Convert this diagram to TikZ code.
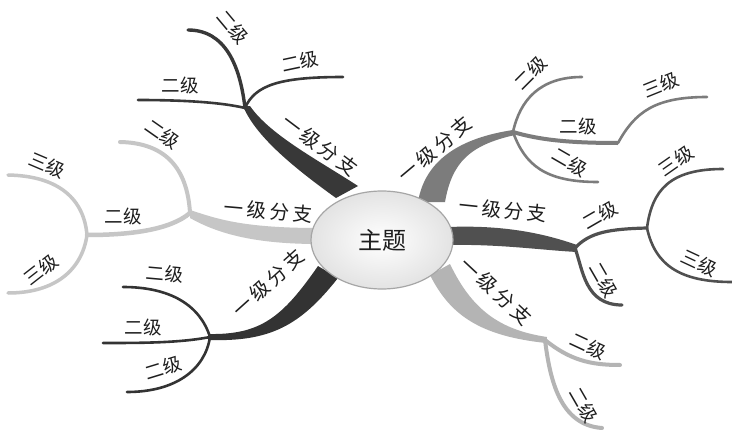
\documentclass[tikz,border=0pt]{standalone}
\usepackage{fontspec}
\usetikzlibrary{shapes.geometric,shadings}
\newfontfamily\cjk{Noto Sans CJK SC}
\definecolor{bdark}{HTML}{383838}
\definecolor{bdarkb}{HTML}{333333}
\definecolor{bmid}{HTML}{505050}
\definecolor{bgrey}{HTML}{7C7C7C}
\definecolor{blight}{HTML}{C6C6C6}
\definecolor{blightb}{HTML}{B4B4B4}
\definecolor{inkc}{HTML}{1E1E1E}
% first-level caption with widened character spacing
\newcommand\firstcap{一\kern3.5pt级\kern3.5pt分\kern3.5pt支}
\begin{document}
\begin{tikzpicture}[x=1pt,y=-1pt,
  lab/.style={font=\cjk\fontsize{18.5}{18.5}\selectfont, text=inkc, inner sep=0pt},
  mainlab/.style={font=\cjk\fontsize{19.5}{19.5}\selectfont, text=inkc, inner sep=0pt},
  twig/.style={line width=2.6pt, line cap=round, draw=#1},
]
\fill[white] (0,0) rectangle (732,431);
\useasboundingbox (0,0) rectangle (732,431);

% junctions and branch ends
\coordinate (jTL) at (245,108);
\coordinate (eTLa) at (188,30);
\coordinate (eTLb) at (343,77);
\coordinate (eTLc) at (138,100);
\coordinate (jTR) at (513,132);
\coordinate (eTRa) at (582,77);
\coordinate (kTR) at (618,143);
\coordinate (eTRb) at (707,97);
\coordinate (eTRc) at (598,182);
\coordinate (jL) at (190,213);
\coordinate (eLa) at (120,142);
\coordinate (jL2) at (87,235);
\coordinate (eLb) at (8,175);
\coordinate (eLc) at (8,293);
\coordinate (jBL) at (210,337);
\coordinate (eBLa) at (123,287);
\coordinate (eBLb) at (103,343);
\coordinate (eBLc) at (127,392);
\coordinate (jR) at (575,248);
\coordinate (jR2) at (647,228);
\coordinate (eRa) at (622,305);
\coordinate (eRb) at (723,169);
\coordinate (eRc) at (732,282);
\coordinate (jBR) at (545,340);
\coordinate (eBRa) at (620,365);
\coordinate (eBRb) at (602,428);

% thick first-level branches (tapered)
\fill[bdark] (243,106) .. controls (255,135) and (290,165) .. (336,198)
  -- (358,186) .. controls (318,160) and (270,135) .. (250,106) -- cycle;
\fill[bgrey] (418,202) .. controls (425,160) and (460,138) .. (513,130)
  -- (515,135) .. controls (470,145) and (452,162) .. (445,202) -- cycle;
\fill[blight] (190,210) .. controls (215,218) and (240,228) .. (318,228)
  -- (318,244) .. controls (250,244) and (215,232) .. (190,218) -- cycle;
\fill[bdarkb] (208,334) .. controls (260,335) and (282,318) .. (318,266)
  -- (338,278) .. controls (300,326) and (270,342) .. (208,340) -- cycle;
\fill[bmid] (448,227) .. controls (500,225) and (540,232) .. (577,245)
  -- (577,252) .. controls (540,250) and (500,244) .. (448,245) -- cycle;
\fill[blightb] (430,275) .. controls (450,315) and (480,336) .. (546,343)
  -- (547,337) .. controls (500,330) and (472,310) .. (450,264) -- cycle;

% second and third level twigs
\draw[twig=bdark, line width=3.4pt] (jTL) .. controls (240,65) and (225,30) .. (eTLa);
\draw[twig=bdark] (jTL) .. controls (255,85) and (280,77) .. (eTLb);
\draw[twig=bdark] (jTL) .. controls (220,102) and (180,100) .. (eTLc);

\draw[twig=bgrey] (jTR) .. controls (520,100) and (540,77) .. (eTRa);
\draw[twig=bgrey, line width=4pt, line cap=butt] (jTR) .. controls (540,140) and (570,143) .. (kTR);
\draw[twig=bgrey] (kTR) .. controls (635,112) and (655,97) .. (eTRb);
\draw[twig=bgrey] (jTR) .. controls (525,165) and (545,182) .. (eTRc);

\draw[twig=blight, line width=4pt] (jL) .. controls (188,180) and (175,143) .. (eLa);
\draw[twig=blight, line width=4.5pt] (jL) .. controls (170,230) and (130,235) .. (jL2);
\draw[twig=blight, line width=3.5pt] (jL2) .. controls (84,200) and (60,176) .. (eLb);
\draw[twig=blight, line width=3.5pt] (jL2) .. controls (82,270) and (55,293) .. (eLc);

\draw[twig=bdarkb] (jBL) .. controls (200,305) and (170,287) .. (eBLa);
\draw[twig=bdarkb] (jBL) .. controls (180,343) and (140,343) .. (eBLb);
\draw[twig=bdarkb] (jBL) .. controls (205,370) and (175,392) .. (eBLc);

\draw[twig=bmid, line width=3.2pt] (jR) .. controls (590,232) and (610,229) .. (jR2);
\draw[twig=bmid, line width=3.2pt] (jR) .. controls (583,270) and (585,305) .. (eRa);
\draw[twig=bmid] (jR2) .. controls (652,190) and (670,169) .. (eRb);
\draw[twig=bmid] (jR2) .. controls (655,265) and (680,282) .. (eRc);

\draw[twig=blightb, line width=4pt] (jBR) .. controls (570,360) and (590,365) .. (eBRa);
\draw[twig=blightb, line width=4pt] (jBR) .. controls (550,380) and (560,425) .. (eBRb);

% central topic
\node[ellipse, minimum width=142pt, minimum height=98pt, draw=gray!70,
  line width=1.2pt, shading=radial, inner color=white, outer color=gray!22,
  font=\cjk\fontsize{24}{24}\selectfont, text=inkc] (topic) at (382,240) {主题};

% first-level labels
\node[mainlab, rotate=-37] (tTL) at (320,145) {\firstcap};
\node[mainlab, rotate=40] (tTR) at (435,149) {\firstcap};
\node[mainlab, rotate=-5] (tL) at (268,211) {\firstcap};
\node[mainlab, rotate=42] (tBL) at (268,283) {\firstcap};
\node[mainlab, rotate=-6] (tR) at (503,210) {\firstcap};
\node[mainlab, rotate=-43] (tBR) at (496,291) {\firstcap};

% second- and third-level labels
\node[lab, rotate=-50] (sTLa) at (233,27) {二级};
\node[lab, rotate=12] (sTLb) at (300,62) {二级};
\node[lab] (sTLc) at (180,85) {二级};

\node[lab, rotate=45] (sTRa) at (531,73) {二级};
\node[lab] (sTRb) at (578,126) {二级};
\node[lab, rotate=-30] (sTRc) at (570,162) {二级};
\node[lab, rotate=22] (hTRb) at (661,85) {三级};

\node[lab, rotate=-35] (sLa) at (163,134) {二级};
\node[lab] (sLb) at (123,216) {二级};
\node[lab, rotate=-23] (hLa) at (47,165) {三级};
\node[lab, rotate=38] (hLb) at (41,270) {三级};

\node[lab, rotate=-5] (sBLa) at (165,274) {二级};
\node[lab] (sBLb) at (143,327) {二级};
\node[lab, rotate=17] (sBLc) at (163,368) {二级};

\node[lab, rotate=30] (sRa) at (600,215) {二级};
\node[lab, rotate=-60] (sRb) at (604,280) {二级};
\node[lab, rotate=35] (hRa) at (676,161) {三级};
\node[lab, rotate=-25] (hRb) at (699,263) {三级};

\node[lab, rotate=-25] (sBRa) at (588,346) {二级};
\node[lab, rotate=-60] (sBRb) at (584,405) {二级};
\end{tikzpicture}
\end{document}
